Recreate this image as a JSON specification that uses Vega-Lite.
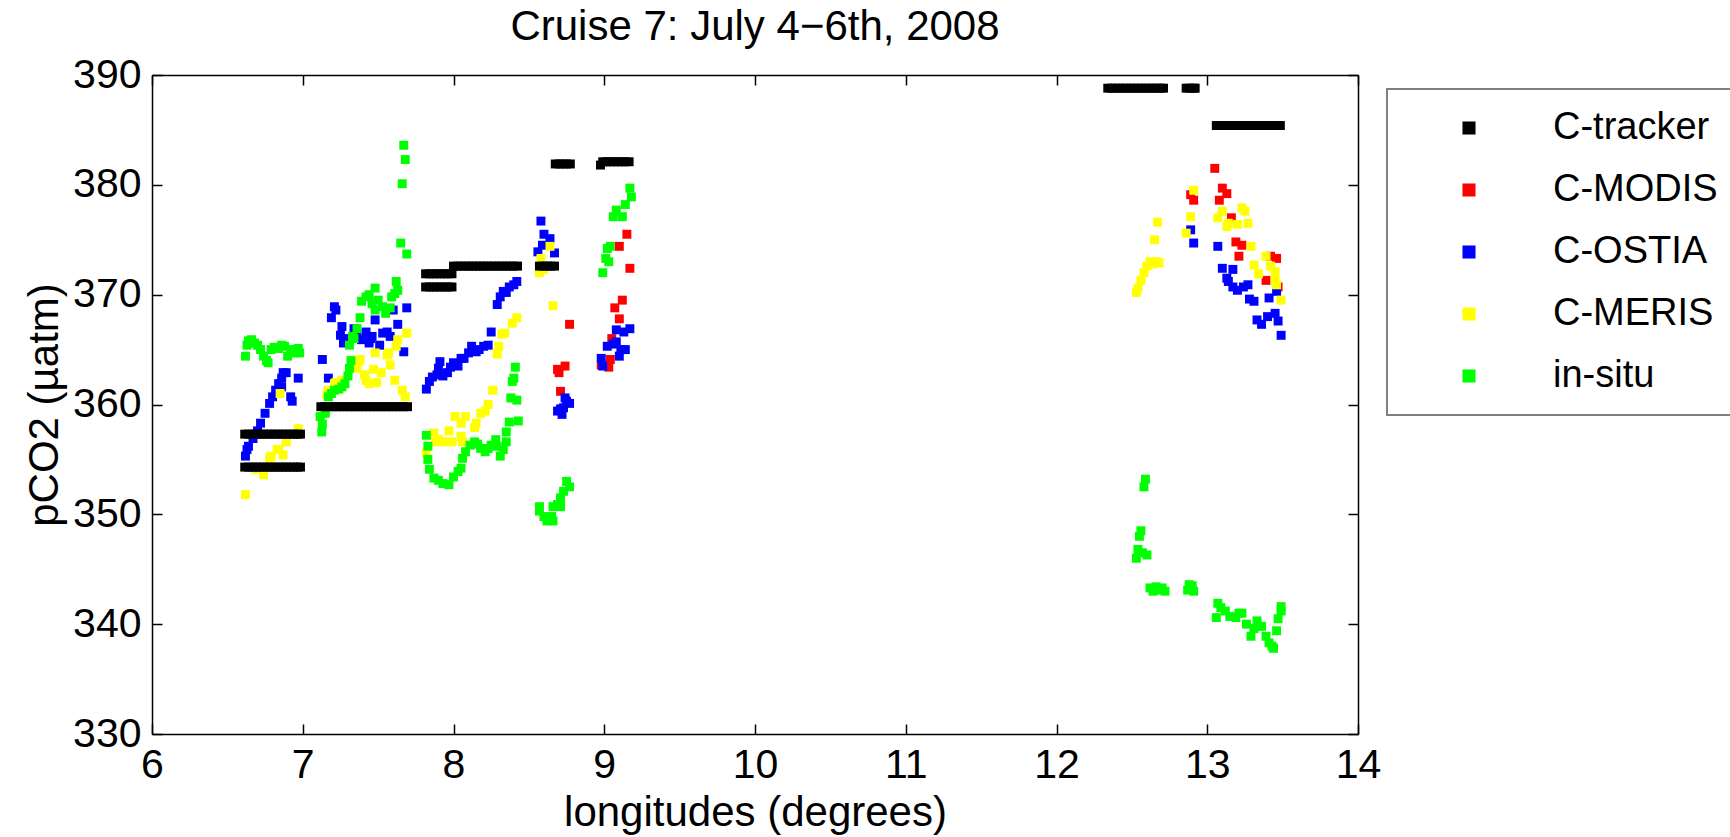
{
"$schema": "https://vega.github.io/schema/vega-lite/v6.json",
"width": 1206, "height": 659,
"autosize": "none",
"padding": {"left": 152, "top": 75, "right": 372, "bottom": 103},
"background": "white",
"title": {"text": "Cruise 7: July 4−6th, 2008", "font": "Liberation Sans", "fontSize": 42, "fontWeight": "normal", "color": "black", "anchor": "middle", "offset": 5},
"config": {
  "view": {"stroke": null},
  "legend": {"strokeWidth": 2},
  "axis": {"labelFont": "Liberation Sans", "titleFont": "Liberation Sans", "labelFontSize": 41, "titleFontSize": 42, "titleFontWeight": "normal", "labelColor": "black", "titleColor": "black", "domainColor": "black", "tickColor": "black", "domainWidth": 1.5, "tickWidth": 1.5, "tickSize": -10, "grid": false, "labelPadding": 21, "labelFlush": false, "labelOverlap": false}
},
"datasets": {
"pts": [
{"src":"C-MODIS","lon":8.77,"pco2":367.3},{"src":"C-MODIS","lon":8.74,"pco2":363.5},{"src":"C-MODIS","lon":8.69,"pco2":363.2},{"src":"C-MODIS","lon":8.70,"pco2":362.9},{"src":"C-MODIS","lon":8.71,"pco2":361.2},
{"src":"C-MODIS","lon":9.15,"pco2":375.5},{"src":"C-MODIS","lon":9.10,"pco2":374.4},{"src":"C-MODIS","lon":9.17,"pco2":372.4},{"src":"C-MODIS","lon":9.12,"pco2":369.5},{"src":"C-MODIS","lon":9.07,"pco2":368.8},{"src":"C-MODIS","lon":9.10,"pco2":367.8},{"src":"C-MODIS","lon":9.05,"pco2":366.0},{"src":"C-MODIS","lon":9.04,"pco2":364.1},{"src":"C-MODIS","lon":9.03,"pco2":363.4},{"src":"C-MODIS","lon":8.98,"pco2":363.6},
{"src":"C-MODIS","lon":13.05,"pco2":381.5},{"src":"C-MODIS","lon":13.10,"pco2":379.7},{"src":"C-MODIS","lon":13.13,"pco2":379.2},{"src":"C-MODIS","lon":13.08,"pco2":378.6},{"src":"C-MODIS","lon":12.89,"pco2":379.1},{"src":"C-MODIS","lon":12.91,"pco2":378.6},{"src":"C-MODIS","lon":13.16,"pco2":377.0},{"src":"C-MODIS","lon":13.19,"pco2":374.8},{"src":"C-MODIS","lon":13.23,"pco2":374.5},{"src":"C-MODIS","lon":13.21,"pco2":373.5},{"src":"C-MODIS","lon":13.42,"pco2":373.5},{"src":"C-MODIS","lon":13.46,"pco2":373.3},{"src":"C-MODIS","lon":13.39,"pco2":371.3},{"src":"C-MODIS","lon":13.47,"pco2":370.7},

{"src":"C-OSTIA","lon":6.62,"pco2":355.3},{"src":"C-OSTIA","lon":6.63,"pco2":355.9},{"src":"C-OSTIA","lon":6.64,"pco2":356.2},{"src":"C-OSTIA","lon":6.67,"pco2":356.9},{"src":"C-OSTIA","lon":6.70,"pco2":357.6},{"src":"C-OSTIA","lon":6.72,"pco2":358.3},{"src":"C-OSTIA","lon":6.75,"pco2":359.2},{"src":"C-OSTIA","lon":6.78,"pco2":360.1},{"src":"C-OSTIA","lon":6.80,"pco2":360.7},{"src":"C-OSTIA","lon":6.82,"pco2":361.3},{"src":"C-OSTIA","lon":6.84,"pco2":361.9},{"src":"C-OSTIA","lon":6.86,"pco2":362.4},{"src":"C-OSTIA","lon":6.87,"pco2":362.9},{"src":"C-OSTIA","lon":6.89,"pco2":362.9},{"src":"C-OSTIA","lon":6.86,"pco2":361.6},{"src":"C-OSTIA","lon":6.92,"pco2":360.7},{"src":"C-OSTIA","lon":6.93,"pco2":360.3},{"src":"C-OSTIA","lon":6.97,"pco2":362.4},
{"src":"C-OSTIA","lon":7.13,"pco2":364.1},{"src":"C-OSTIA","lon":7.17,"pco2":362.4},{"src":"C-OSTIA","lon":7.19,"pco2":367.9},{"src":"C-OSTIA","lon":7.21,"pco2":368.9},{"src":"C-OSTIA","lon":7.22,"pco2":368.6},{"src":"C-OSTIA","lon":7.25,"pco2":366.3},{"src":"C-OSTIA","lon":7.26,"pco2":367.1},{"src":"C-OSTIA","lon":7.27,"pco2":365.6},{"src":"C-OSTIA","lon":7.30,"pco2":366.0},{"src":"C-OSTIA","lon":7.34,"pco2":366.9},{"src":"C-OSTIA","lon":7.36,"pco2":366.4},{"src":"C-OSTIA","lon":7.39,"pco2":365.9},{"src":"C-OSTIA","lon":7.42,"pco2":366.6},{"src":"C-OSTIA","lon":7.44,"pco2":365.6},{"src":"C-OSTIA","lon":7.45,"pco2":366.0},{"src":"C-OSTIA","lon":7.46,"pco2":366.2},{"src":"C-OSTIA","lon":7.48,"pco2":367.7},{"src":"C-OSTIA","lon":7.51,"pco2":365.4},{"src":"C-OSTIA","lon":7.53,"pco2":366.5},{"src":"C-OSTIA","lon":7.56,"pco2":366.6},{"src":"C-OSTIA","lon":7.58,"pco2":366.2},{"src":"C-OSTIA","lon":7.60,"pco2":368.6},{"src":"C-OSTIA","lon":7.63,"pco2":367.3},{"src":"C-OSTIA","lon":7.67,"pco2":364.8},{"src":"C-OSTIA","lon":7.69,"pco2":368.8},
{"src":"C-OSTIA","lon":7.82,"pco2":361.4},{"src":"C-OSTIA","lon":7.84,"pco2":362.1},{"src":"C-OSTIA","lon":7.86,"pco2":362.5},{"src":"C-OSTIA","lon":7.89,"pco2":362.7},{"src":"C-OSTIA","lon":7.90,"pco2":363.3},{"src":"C-OSTIA","lon":7.91,"pco2":363.9},{"src":"C-OSTIA","lon":7.93,"pco2":362.6},{"src":"C-OSTIA","lon":7.96,"pco2":362.9},{"src":"C-OSTIA","lon":7.98,"pco2":363.4},{"src":"C-OSTIA","lon":8.00,"pco2":363.8},{"src":"C-OSTIA","lon":8.03,"pco2":363.5},{"src":"C-OSTIA","lon":8.05,"pco2":364.2},{"src":"C-OSTIA","lon":8.07,"pco2":364.2},{"src":"C-OSTIA","lon":8.10,"pco2":364.7},{"src":"C-OSTIA","lon":8.12,"pco2":365.3},{"src":"C-OSTIA","lon":8.15,"pco2":364.8},{"src":"C-OSTIA","lon":8.17,"pco2":365.0},{"src":"C-OSTIA","lon":8.20,"pco2":365.3},{"src":"C-OSTIA","lon":8.23,"pco2":365.4},{"src":"C-OSTIA","lon":8.25,"pco2":366.6},{"src":"C-OSTIA","lon":8.29,"pco2":369.1},{"src":"C-OSTIA","lon":8.31,"pco2":369.8},{"src":"C-OSTIA","lon":8.33,"pco2":370.3},{"src":"C-OSTIA","lon":8.35,"pco2":370.2},{"src":"C-OSTIA","lon":8.37,"pco2":370.7},{"src":"C-OSTIA","lon":8.40,"pco2":370.9},{"src":"C-OSTIA","lon":8.42,"pco2":371.2},
{"src":"C-OSTIA","lon":8.58,"pco2":376.7},{"src":"C-OSTIA","lon":8.60,"pco2":375.5},{"src":"C-OSTIA","lon":8.64,"pco2":375.1},{"src":"C-OSTIA","lon":8.59,"pco2":374.5},{"src":"C-OSTIA","lon":8.67,"pco2":373.8},{"src":"C-OSTIA","lon":8.56,"pco2":373.9},{"src":"C-OSTIA","lon":8.71,"pco2":359.6},{"src":"C-OSTIA","lon":8.73,"pco2":359.7},{"src":"C-OSTIA","lon":8.75,"pco2":360.3},{"src":"C-OSTIA","lon":8.74,"pco2":360.6},{"src":"C-OSTIA","lon":8.77,"pco2":360.1},{"src":"C-OSTIA","lon":8.72,"pco2":359.1},{"src":"C-OSTIA","lon":8.69,"pco2":359.4},
{"src":"C-OSTIA","lon":9.08,"pco2":366.8},{"src":"C-OSTIA","lon":9.17,"pco2":366.9},{"src":"C-OSTIA","lon":9.13,"pco2":366.6},{"src":"C-OSTIA","lon":9.02,"pco2":365.3},{"src":"C-OSTIA","lon":9.08,"pco2":365.7},{"src":"C-OSTIA","lon":9.11,"pco2":365.0},{"src":"C-OSTIA","lon":9.14,"pco2":365.0},{"src":"C-OSTIA","lon":9.10,"pco2":364.4},{"src":"C-OSTIA","lon":8.98,"pco2":364.2},{"src":"C-OSTIA","lon":8.99,"pco2":363.5},{"src":"C-OSTIA","lon":9.06,"pco2":365.5},
{"src":"C-OSTIA","lon":12.89,"pco2":375.9},{"src":"C-OSTIA","lon":12.91,"pco2":374.7},{"src":"C-OSTIA","lon":13.07,"pco2":374.4},{"src":"C-OSTIA","lon":13.10,"pco2":372.4},{"src":"C-OSTIA","lon":13.17,"pco2":372.3},{"src":"C-OSTIA","lon":13.13,"pco2":371.5},{"src":"C-OSTIA","lon":13.14,"pco2":371.2},{"src":"C-OSTIA","lon":13.17,"pco2":370.7},{"src":"C-OSTIA","lon":13.20,"pco2":370.4},{"src":"C-OSTIA","lon":13.24,"pco2":370.7},{"src":"C-OSTIA","lon":13.27,"pco2":370.9},{"src":"C-OSTIA","lon":13.28,"pco2":369.6},{"src":"C-OSTIA","lon":13.31,"pco2":369.4},{"src":"C-OSTIA","lon":13.41,"pco2":369.7},{"src":"C-OSTIA","lon":13.46,"pco2":370.3},{"src":"C-OSTIA","lon":13.33,"pco2":367.7},{"src":"C-OSTIA","lon":13.36,"pco2":367.3},{"src":"C-OSTIA","lon":13.40,"pco2":368.0},{"src":"C-OSTIA","lon":13.45,"pco2":368.3},{"src":"C-OSTIA","lon":13.47,"pco2":367.6},{"src":"C-OSTIA","lon":13.49,"pco2":366.3},

{"src":"C-MERIS","lon":6.62,"pco2":351.8},{"src":"C-MERIS","lon":6.69,"pco2":354.1},{"src":"C-MERIS","lon":6.74,"pco2":353.6},{"src":"C-MERIS","lon":6.78,"pco2":355.1},{"src":"C-MERIS","lon":6.79,"pco2":355.3},{"src":"C-MERIS","lon":6.83,"pco2":355.9},{"src":"C-MERIS","lon":6.84,"pco2":355.9},{"src":"C-MERIS","lon":6.87,"pco2":355.4},{"src":"C-MERIS","lon":6.89,"pco2":356.6},{"src":"C-MERIS","lon":6.97,"pco2":357.8},{"src":"C-MERIS","lon":6.85,"pco2":361.0},
{"src":"C-MERIS","lon":7.16,"pco2":360.9},{"src":"C-MERIS","lon":7.17,"pco2":361.3},{"src":"C-MERIS","lon":7.21,"pco2":361.9},{"src":"C-MERIS","lon":7.22,"pco2":362.0},{"src":"C-MERIS","lon":7.26,"pco2":362.2},{"src":"C-MERIS","lon":7.36,"pco2":363.3},{"src":"C-MERIS","lon":7.37,"pco2":363.9},{"src":"C-MERIS","lon":7.38,"pco2":364.1},{"src":"C-MERIS","lon":7.41,"pco2":362.7},{"src":"C-MERIS","lon":7.42,"pco2":362.2},{"src":"C-MERIS","lon":7.44,"pco2":361.9},{"src":"C-MERIS","lon":7.47,"pco2":363.2},{"src":"C-MERIS","lon":7.48,"pco2":364.7},{"src":"C-MERIS","lon":7.49,"pco2":362.0},{"src":"C-MERIS","lon":7.52,"pco2":362.9},{"src":"C-MERIS","lon":7.56,"pco2":364.5},{"src":"C-MERIS","lon":7.57,"pco2":364.7},{"src":"C-MERIS","lon":7.58,"pco2":363.6},{"src":"C-MERIS","lon":7.61,"pco2":362.2},{"src":"C-MERIS","lon":7.63,"pco2":365.9},{"src":"C-MERIS","lon":7.62,"pco2":365.3},{"src":"C-MERIS","lon":7.66,"pco2":361.3},{"src":"C-MERIS","lon":7.68,"pco2":360.7},{"src":"C-MERIS","lon":7.69,"pco2":366.5},
{"src":"C-MERIS","lon":7.82,"pco2":355.6},{"src":"C-MERIS","lon":7.87,"pco2":357.4},{"src":"C-MERIS","lon":7.88,"pco2":356.6},{"src":"C-MERIS","lon":7.90,"pco2":356.8},{"src":"C-MERIS","lon":7.94,"pco2":356.6},{"src":"C-MERIS","lon":7.97,"pco2":357.6},{"src":"C-MERIS","lon":7.99,"pco2":356.6},{"src":"C-MERIS","lon":8.01,"pco2":358.9},{"src":"C-MERIS","lon":8.05,"pco2":358.3},{"src":"C-MERIS","lon":8.05,"pco2":357.1},{"src":"C-MERIS","lon":8.06,"pco2":356.6},{"src":"C-MERIS","lon":8.08,"pco2":358.9},{"src":"C-MERIS","lon":8.14,"pco2":357.9},{"src":"C-MERIS","lon":8.15,"pco2":358.3},{"src":"C-MERIS","lon":8.18,"pco2":359.2},{"src":"C-MERIS","lon":8.21,"pco2":359.4},{"src":"C-MERIS","lon":8.23,"pco2":360.0},{"src":"C-MERIS","lon":8.26,"pco2":361.3},{"src":"C-MERIS","lon":8.29,"pco2":364.6},{"src":"C-MERIS","lon":8.30,"pco2":365.3},{"src":"C-MERIS","lon":8.32,"pco2":366.4},{"src":"C-MERIS","lon":8.34,"pco2":366.5},{"src":"C-MERIS","lon":8.39,"pco2":367.4},{"src":"C-MERIS","lon":8.42,"pco2":367.9},
{"src":"C-MERIS","lon":8.64,"pco2":374.4},{"src":"C-MERIS","lon":8.58,"pco2":373.3},{"src":"C-MERIS","lon":8.60,"pco2":372.3},{"src":"C-MERIS","lon":8.57,"pco2":372.0},{"src":"C-MERIS","lon":8.66,"pco2":369.0},
{"src":"C-MERIS","lon":12.53,"pco2":370.2},{"src":"C-MERIS","lon":12.54,"pco2":370.6},{"src":"C-MERIS","lon":12.56,"pco2":371.3},{"src":"C-MERIS","lon":12.58,"pco2":372.0},{"src":"C-MERIS","lon":12.60,"pco2":372.6},{"src":"C-MERIS","lon":12.62,"pco2":373.0},{"src":"C-MERIS","lon":12.64,"pco2":372.8},{"src":"C-MERIS","lon":12.66,"pco2":373.0},{"src":"C-MERIS","lon":12.68,"pco2":372.9},{"src":"C-MERIS","lon":12.65,"pco2":375.0},{"src":"C-MERIS","lon":12.67,"pco2":376.6},
{"src":"C-MERIS","lon":12.91,"pco2":379.5},{"src":"C-MERIS","lon":12.89,"pco2":377.1},{"src":"C-MERIS","lon":12.86,"pco2":375.6},{"src":"C-MERIS","lon":13.10,"pco2":377.6},{"src":"C-MERIS","lon":13.07,"pco2":377.0},{"src":"C-MERIS","lon":13.14,"pco2":376.5},{"src":"C-MERIS","lon":13.13,"pco2":376.2},{"src":"C-MERIS","lon":13.23,"pco2":377.9},{"src":"C-MERIS","lon":13.25,"pco2":377.6},{"src":"C-MERIS","lon":13.20,"pco2":376.4},{"src":"C-MERIS","lon":13.27,"pco2":376.5},{"src":"C-MERIS","lon":13.29,"pco2":374.4},{"src":"C-MERIS","lon":13.39,"pco2":373.5},{"src":"C-MERIS","lon":13.31,"pco2":372.7},{"src":"C-MERIS","lon":13.34,"pco2":371.9},{"src":"C-MERIS","lon":13.42,"pco2":372.6},{"src":"C-MERIS","lon":13.45,"pco2":372.1},{"src":"C-MERIS","lon":13.45,"pco2":371.3},{"src":"C-MERIS","lon":13.46,"pco2":370.9},{"src":"C-MERIS","lon":13.49,"pco2":369.5},

{"src":"in-situ","lon":6.62,"pco2":364.4},{"src":"in-situ","lon":6.63,"pco2":365.4},{"src":"in-situ","lon":6.64,"pco2":365.8},{"src":"in-situ","lon":6.66,"pco2":365.9},{"src":"in-situ","lon":6.68,"pco2":365.6},{"src":"in-situ","lon":6.70,"pco2":365.4},{"src":"in-situ","lon":6.72,"pco2":365.0},{"src":"in-situ","lon":6.74,"pco2":364.4},{"src":"in-situ","lon":6.76,"pco2":364.0},{"src":"in-situ","lon":6.77,"pco2":363.8},{"src":"in-situ","lon":6.79,"pco2":365.0},{"src":"in-situ","lon":6.81,"pco2":365.2},{"src":"in-situ","lon":6.84,"pco2":365.1},{"src":"in-situ","lon":6.86,"pco2":365.4},{"src":"in-situ","lon":6.88,"pco2":365.3},{"src":"in-situ","lon":6.90,"pco2":364.4},{"src":"in-situ","lon":6.92,"pco2":365.0},{"src":"in-situ","lon":6.95,"pco2":364.7},{"src":"in-situ","lon":6.98,"pco2":364.7},{"src":"in-situ","lon":6.97,"pco2":365.1},
{"src":"in-situ","lon":7.115,"pco2":358.9},{"src":"in-situ","lon":7.126,"pco2":357.5},{"src":"in-situ","lon":7.13,"pco2":358.2},{"src":"in-situ","lon":7.15,"pco2":359.2},{"src":"in-situ","lon":7.17,"pco2":360.7},{"src":"in-situ","lon":7.19,"pco2":361.0},{"src":"in-situ","lon":7.21,"pco2":361.3},{"src":"in-situ","lon":7.24,"pco2":361.4},{"src":"in-situ","lon":7.26,"pco2":361.6},{"src":"in-situ","lon":7.28,"pco2":361.9},{"src":"in-situ","lon":7.30,"pco2":362.6},{"src":"in-situ","lon":7.31,"pco2":363.3},{"src":"in-situ","lon":7.32,"pco2":364.0},{"src":"in-situ","lon":7.31,"pco2":365.4},{"src":"in-situ","lon":7.33,"pco2":366.2},{"src":"in-situ","lon":7.34,"pco2":366.0},{"src":"in-situ","lon":7.36,"pco2":366.9},{"src":"in-situ","lon":7.38,"pco2":367.9},{"src":"in-situ","lon":7.39,"pco2":369.4},{"src":"in-situ","lon":7.42,"pco2":369.8},{"src":"in-situ","lon":7.44,"pco2":370.0},{"src":"in-situ","lon":7.46,"pco2":369.2},{"src":"in-situ","lon":7.48,"pco2":368.6},{"src":"in-situ","lon":7.48,"pco2":370.6},{"src":"in-situ","lon":7.50,"pco2":369.5},{"src":"in-situ","lon":7.53,"pco2":368.9},{"src":"in-situ","lon":7.55,"pco2":368.3},{"src":"in-situ","lon":7.58,"pco2":368.8},{"src":"in-situ","lon":7.59,"pco2":369.8},{"src":"in-situ","lon":7.61,"pco2":370.1},{"src":"in-situ","lon":7.62,"pco2":371.2},{"src":"in-situ","lon":7.63,"pco2":370.4},{"src":"in-situ","lon":7.65,"pco2":374.7},{"src":"in-situ","lon":7.69,"pco2":373.7},{"src":"in-situ","lon":7.66,"pco2":380.1},{"src":"in-situ","lon":7.68,"pco2":382.3},{"src":"in-situ","lon":7.67,"pco2":383.6},
{"src":"in-situ","lon":7.82,"pco2":357.2},{"src":"in-situ","lon":7.83,"pco2":356.2},{"src":"in-situ","lon":7.83,"pco2":355.0},{"src":"in-situ","lon":7.84,"pco2":354.1},{"src":"in-situ","lon":7.87,"pco2":353.3},{"src":"in-situ","lon":7.90,"pco2":353.1},{"src":"in-situ","lon":7.93,"pco2":352.8},{"src":"in-situ","lon":7.97,"pco2":352.7},{"src":"in-situ","lon":8.00,"pco2":353.4},{"src":"in-situ","lon":8.03,"pco2":353.9},{"src":"in-situ","lon":8.05,"pco2":354.2},{"src":"in-situ","lon":8.06,"pco2":355.1},{"src":"in-situ","lon":8.08,"pco2":355.7},{"src":"in-situ","lon":8.11,"pco2":356.3},{"src":"in-situ","lon":8.14,"pco2":356.6},{"src":"in-situ","lon":8.16,"pco2":356.4},{"src":"in-situ","lon":8.18,"pco2":356.0},{"src":"in-situ","lon":8.21,"pco2":355.7},{"src":"in-situ","lon":8.23,"pco2":356.0},{"src":"in-situ","lon":8.25,"pco2":356.3},{"src":"in-situ","lon":8.28,"pco2":356.8},{"src":"in-situ","lon":8.29,"pco2":356.2},{"src":"in-situ","lon":8.31,"pco2":355.3},{"src":"in-situ","lon":8.33,"pco2":355.9},{"src":"in-situ","lon":8.35,"pco2":356.6},{"src":"in-situ","lon":8.35,"pco2":357.5},{"src":"in-situ","lon":8.37,"pco2":358.4},{"src":"in-situ","lon":8.43,"pco2":358.5},{"src":"in-situ","lon":8.38,"pco2":360.6},{"src":"in-situ","lon":8.42,"pco2":360.4},{"src":"in-situ","lon":8.39,"pco2":362.1},{"src":"in-situ","lon":8.40,"pco2":362.4},{"src":"in-situ","lon":8.41,"pco2":363.4},
{"src":"in-situ","lon":8.57,"pco2":350.7},{"src":"in-situ","lon":8.57,"pco2":350.3},{"src":"in-situ","lon":8.60,"pco2":349.8},{"src":"in-situ","lon":8.62,"pco2":349.4},{"src":"in-situ","lon":8.64,"pco2":349.6},{"src":"in-situ","lon":8.66,"pco2":349.4},{"src":"in-situ","lon":8.65,"pco2":349.8},{"src":"in-situ","lon":8.66,"pco2":350.7},{"src":"in-situ","lon":8.69,"pco2":350.9},{"src":"in-situ","lon":8.71,"pco2":351.5},{"src":"in-situ","lon":8.71,"pco2":350.7},{"src":"in-situ","lon":8.73,"pco2":352.1},{"src":"in-situ","lon":8.75,"pco2":353.0},{"src":"in-situ","lon":8.77,"pco2":352.5},
{"src":"in-situ","lon":8.99,"pco2":372.0},{"src":"in-situ","lon":9.01,"pco2":373.3},{"src":"in-situ","lon":9.02,"pco2":374.2},{"src":"in-situ","lon":9.03,"pco2":373.0},{"src":"in-situ","lon":9.04,"pco2":374.4},{"src":"in-situ","lon":9.06,"pco2":377.1},{"src":"in-situ","lon":9.08,"pco2":377.7},{"src":"in-situ","lon":9.12,"pco2":377.1},{"src":"in-situ","lon":9.14,"pco2":378.2},{"src":"in-situ","lon":9.18,"pco2":378.9},{"src":"in-situ","lon":9.17,"pco2":379.7},
{"src":"in-situ","lon":12.53,"pco2":346.0},{"src":"in-situ","lon":12.54,"pco2":346.8},{"src":"in-situ","lon":12.55,"pco2":348.0},{"src":"in-situ","lon":12.56,"pco2":348.5},{"src":"in-situ","lon":12.57,"pco2":346.5},{"src":"in-situ","lon":12.58,"pco2":352.5},{"src":"in-situ","lon":12.59,"pco2":353.2},{"src":"in-situ","lon":12.60,"pco2":346.3},{"src":"in-situ","lon":12.62,"pco2":343.3},{"src":"in-situ","lon":12.64,"pco2":343.0},{"src":"in-situ","lon":12.66,"pco2":343.4},{"src":"in-situ","lon":12.68,"pco2":343.1},{"src":"in-situ","lon":12.70,"pco2":343.3},{"src":"in-situ","lon":12.72,"pco2":343.0},{"src":"in-situ","lon":12.87,"pco2":343.1},{"src":"in-situ","lon":12.88,"pco2":343.6},{"src":"in-situ","lon":12.89,"pco2":343.2},{"src":"in-situ","lon":12.90,"pco2":343.5},{"src":"in-situ","lon":12.91,"pco2":343.0},{"src":"in-situ","lon":13.07,"pco2":341.9},{"src":"in-situ","lon":13.06,"pco2":340.6},{"src":"in-situ","lon":13.09,"pco2":341.5},{"src":"in-situ","lon":13.12,"pco2":341.2},{"src":"in-situ","lon":13.15,"pco2":340.7},{"src":"in-situ","lon":13.19,"pco2":340.6},{"src":"in-situ","lon":13.21,"pco2":341.0},{"src":"in-situ","lon":13.23,"pco2":341.0},{"src":"in-situ","lon":13.26,"pco2":340.0},{"src":"in-situ","lon":13.29,"pco2":338.9},{"src":"in-situ","lon":13.31,"pco2":339.6},{"src":"in-situ","lon":13.33,"pco2":340.3},{"src":"in-situ","lon":13.36,"pco2":339.8},{"src":"in-situ","lon":13.39,"pco2":338.9},{"src":"in-situ","lon":13.41,"pco2":338.3},{"src":"in-situ","lon":13.43,"pco2":338.0},{"src":"in-situ","lon":13.44,"pco2":337.8},{"src":"in-situ","lon":13.46,"pco2":339.4},{"src":"in-situ","lon":13.47,"pco2":340.5},{"src":"in-situ","lon":13.49,"pco2":341.6},{"src":"in-situ","lon":13.49,"pco2":341.2},

{"src":"C-tracker","lon":6.615,"pco2":357.3},{"src":"C-tracker","lon":6.64,"pco2":357.3},{"src":"C-tracker","lon":6.665,"pco2":357.3},{"src":"C-tracker","lon":6.69,"pco2":357.3},{"src":"C-tracker","lon":6.715,"pco2":357.3},{"src":"C-tracker","lon":6.74,"pco2":357.3},{"src":"C-tracker","lon":6.765,"pco2":357.3},{"src":"C-tracker","lon":6.79,"pco2":357.3},{"src":"C-tracker","lon":6.815,"pco2":357.3},{"src":"C-tracker","lon":6.84,"pco2":357.3},{"src":"C-tracker","lon":6.865,"pco2":357.3},{"src":"C-tracker","lon":6.89,"pco2":357.3},{"src":"C-tracker","lon":6.915,"pco2":357.3},{"src":"C-tracker","lon":6.94,"pco2":357.3},{"src":"C-tracker","lon":6.965,"pco2":357.3},{"src":"C-tracker","lon":6.985,"pco2":357.3},
{"src":"C-tracker","lon":6.615,"pco2":354.3},{"src":"C-tracker","lon":6.64,"pco2":354.3},{"src":"C-tracker","lon":6.665,"pco2":354.3},{"src":"C-tracker","lon":6.69,"pco2":354.3},{"src":"C-tracker","lon":6.715,"pco2":354.3},{"src":"C-tracker","lon":6.74,"pco2":354.3},{"src":"C-tracker","lon":6.765,"pco2":354.3},{"src":"C-tracker","lon":6.79,"pco2":354.3},{"src":"C-tracker","lon":6.815,"pco2":354.3},{"src":"C-tracker","lon":6.84,"pco2":354.3},{"src":"C-tracker","lon":6.865,"pco2":354.3},{"src":"C-tracker","lon":6.89,"pco2":354.3},{"src":"C-tracker","lon":6.915,"pco2":354.3},{"src":"C-tracker","lon":6.94,"pco2":354.3},{"src":"C-tracker","lon":6.965,"pco2":354.3},{"src":"C-tracker","lon":6.985,"pco2":354.3},
{"src":"C-tracker","lon":7.12,"pco2":359.8},{"src":"C-tracker","lon":7.145,"pco2":359.8},{"src":"C-tracker","lon":7.17,"pco2":359.8},{"src":"C-tracker","lon":7.195,"pco2":359.8},{"src":"C-tracker","lon":7.22,"pco2":359.8},{"src":"C-tracker","lon":7.245,"pco2":359.8},{"src":"C-tracker","lon":7.27,"pco2":359.8},{"src":"C-tracker","lon":7.295,"pco2":359.8},{"src":"C-tracker","lon":7.32,"pco2":359.8},{"src":"C-tracker","lon":7.345,"pco2":359.8},{"src":"C-tracker","lon":7.37,"pco2":359.8},{"src":"C-tracker","lon":7.395,"pco2":359.8},{"src":"C-tracker","lon":7.42,"pco2":359.8},{"src":"C-tracker","lon":7.445,"pco2":359.8},{"src":"C-tracker","lon":7.47,"pco2":359.8},{"src":"C-tracker","lon":7.495,"pco2":359.8},{"src":"C-tracker","lon":7.52,"pco2":359.8},{"src":"C-tracker","lon":7.545,"pco2":359.8},{"src":"C-tracker","lon":7.57,"pco2":359.8},{"src":"C-tracker","lon":7.595,"pco2":359.8},{"src":"C-tracker","lon":7.62,"pco2":359.8},{"src":"C-tracker","lon":7.645,"pco2":359.8},{"src":"C-tracker","lon":7.67,"pco2":359.8},{"src":"C-tracker","lon":7.695,"pco2":359.8},
{"src":"C-tracker","lon":7.815,"pco2":371.9},{"src":"C-tracker","lon":7.84,"pco2":371.9},{"src":"C-tracker","lon":7.865,"pco2":371.9},{"src":"C-tracker","lon":7.89,"pco2":371.9},{"src":"C-tracker","lon":7.915,"pco2":371.9},{"src":"C-tracker","lon":7.94,"pco2":371.9},{"src":"C-tracker","lon":7.965,"pco2":371.9},{"src":"C-tracker","lon":7.99,"pco2":371.9},
{"src":"C-tracker","lon":7.815,"pco2":370.7},{"src":"C-tracker","lon":7.84,"pco2":370.7},{"src":"C-tracker","lon":7.865,"pco2":370.7},{"src":"C-tracker","lon":7.89,"pco2":370.7},{"src":"C-tracker","lon":7.915,"pco2":370.7},{"src":"C-tracker","lon":7.94,"pco2":370.7},{"src":"C-tracker","lon":7.965,"pco2":370.7},{"src":"C-tracker","lon":7.99,"pco2":370.7},
{"src":"C-tracker","lon":8.0,"pco2":372.6},{"src":"C-tracker","lon":8.025,"pco2":372.6},{"src":"C-tracker","lon":8.05,"pco2":372.6},{"src":"C-tracker","lon":8.075,"pco2":372.6},{"src":"C-tracker","lon":8.1,"pco2":372.6},{"src":"C-tracker","lon":8.125,"pco2":372.6},{"src":"C-tracker","lon":8.15,"pco2":372.6},{"src":"C-tracker","lon":8.175,"pco2":372.6},{"src":"C-tracker","lon":8.2,"pco2":372.6},{"src":"C-tracker","lon":8.225,"pco2":372.6},{"src":"C-tracker","lon":8.25,"pco2":372.6},{"src":"C-tracker","lon":8.275,"pco2":372.6},{"src":"C-tracker","lon":8.3,"pco2":372.6},{"src":"C-tracker","lon":8.325,"pco2":372.6},{"src":"C-tracker","lon":8.35,"pco2":372.6},{"src":"C-tracker","lon":8.375,"pco2":372.6},{"src":"C-tracker","lon":8.4,"pco2":372.6},{"src":"C-tracker","lon":8.425,"pco2":372.6},
{"src":"C-tracker","lon":8.57,"pco2":372.6},{"src":"C-tracker","lon":8.595,"pco2":372.6},{"src":"C-tracker","lon":8.62,"pco2":372.6},{"src":"C-tracker","lon":8.645,"pco2":372.6},{"src":"C-tracker","lon":8.67,"pco2":372.6},
{"src":"C-tracker","lon":8.675,"pco2":381.9},{"src":"C-tracker","lon":8.7,"pco2":381.9},{"src":"C-tracker","lon":8.725,"pco2":381.9},{"src":"C-tracker","lon":8.75,"pco2":381.9},{"src":"C-tracker","lon":8.775,"pco2":381.9},
{"src":"C-tracker","lon":8.975,"pco2":381.8},{"src":"C-tracker","lon":8.99,"pco2":382.1},{"src":"C-tracker","lon":9.015,"pco2":382.1},{"src":"C-tracker","lon":9.04,"pco2":382.1},{"src":"C-tracker","lon":9.065,"pco2":382.1},{"src":"C-tracker","lon":9.09,"pco2":382.1},{"src":"C-tracker","lon":9.115,"pco2":382.1},{"src":"C-tracker","lon":9.14,"pco2":382.1},{"src":"C-tracker","lon":9.165,"pco2":382.1},
{"src":"C-tracker","lon":12.34,"pco2":388.8},{"src":"C-tracker","lon":12.365,"pco2":388.8},{"src":"C-tracker","lon":12.39,"pco2":388.8},{"src":"C-tracker","lon":12.415,"pco2":388.8},{"src":"C-tracker","lon":12.44,"pco2":388.8},{"src":"C-tracker","lon":12.465,"pco2":388.8},{"src":"C-tracker","lon":12.49,"pco2":388.8},{"src":"C-tracker","lon":12.515,"pco2":388.8},{"src":"C-tracker","lon":12.54,"pco2":388.8},{"src":"C-tracker","lon":12.565,"pco2":388.8},{"src":"C-tracker","lon":12.59,"pco2":388.8},{"src":"C-tracker","lon":12.615,"pco2":388.8},{"src":"C-tracker","lon":12.64,"pco2":388.8},{"src":"C-tracker","lon":12.665,"pco2":388.8},{"src":"C-tracker","lon":12.69,"pco2":388.8},{"src":"C-tracker","lon":12.71,"pco2":388.8},
{"src":"C-tracker","lon":12.86,"pco2":388.8},{"src":"C-tracker","lon":12.885,"pco2":388.8},{"src":"C-tracker","lon":12.91,"pco2":388.8},{"src":"C-tracker","lon":12.92,"pco2":388.8},
{"src":"C-tracker","lon":13.06,"pco2":385.4},{"src":"C-tracker","lon":13.085,"pco2":385.4},{"src":"C-tracker","lon":13.11,"pco2":385.4},{"src":"C-tracker","lon":13.135,"pco2":385.4},{"src":"C-tracker","lon":13.16,"pco2":385.4},{"src":"C-tracker","lon":13.185,"pco2":385.4},{"src":"C-tracker","lon":13.21,"pco2":385.4},{"src":"C-tracker","lon":13.235,"pco2":385.4},{"src":"C-tracker","lon":13.26,"pco2":385.4},{"src":"C-tracker","lon":13.285,"pco2":385.4},{"src":"C-tracker","lon":13.31,"pco2":385.4},{"src":"C-tracker","lon":13.335,"pco2":385.4},{"src":"C-tracker","lon":13.36,"pco2":385.4},{"src":"C-tracker","lon":13.385,"pco2":385.4},{"src":"C-tracker","lon":13.41,"pco2":385.4},{"src":"C-tracker","lon":13.435,"pco2":385.4},{"src":"C-tracker","lon":13.46,"pco2":385.4},{"src":"C-tracker","lon":13.485,"pco2":385.4}
]
},
"layer": [
  {
    "data": {"name": "pts"},
    "mark": {"type": "square", "size": 80, "opacity": 1, "filled": true, "strokeWidth": 0},
    "encoding": {
      "x": {"field": "lon", "type": "quantitative", "scale": {"domain": [6, 14], "nice": false, "zero": false},
            "axis": {"orient": "bottom", "values": [6,7,8,9,10,11,12,13,14], "title": "longitudes (degrees)", "titlePadding": 7}},
      "y": {"field": "pco2", "type": "quantitative", "scale": {"domain": [330, 390], "nice": false, "zero": false},
            "axis": {"orient": "left", "values": [330,340,350,360,370,380,390], "title": "pCO2 (µatm)", "titlePadding": 6}},
      "color": {"field": "src", "type": "nominal",
        "scale": {"domain": ["C-tracker","C-MODIS","C-OSTIA","C-MERIS","in-situ"], "range": ["#000000","#ff0000","#0000ff","#ffff00","#00ff00"]},
        "legend": {"title": null, "orient": "none", "legendX": 1235, "legendY": 14, "direction": "vertical",
          "strokeColor": "#808080", "fillColor": "white", "padding": 20,
          "symbolType": "square", "symbolSize": 170, "symbolStrokeWidth": 0, "symbolOffset": 43,
          "labelOffset": 65, "labelLimit": 500, "labelFont": "Liberation Sans", "labelFontSize": 38, "labelColor": "black", "rowPadding": 24}}
    }
  },
  {
    "data": {"name": "pts"},
    "mark": {"type": "square", "opacity": 0},
    "encoding": {
      "x": {"field": "lon", "type": "quantitative", "axis": {"orient": "top", "values": [6,7,8,9,10,11,12,13,14], "labels": false, "title": null}},
      "y": {"field": "pco2", "type": "quantitative", "axis": {"orient": "right", "values": [330,340,350,360,370,380,390], "labels": false, "title": null}}
    }
  }
],
"resolve": {"axis": {"x": "independent", "y": "independent"}}
}
